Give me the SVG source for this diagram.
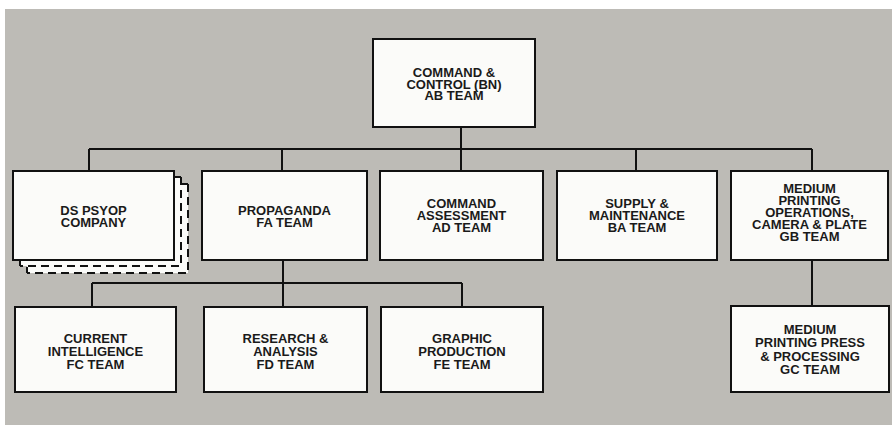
<svg xmlns="http://www.w3.org/2000/svg" width="892" height="428" viewBox="0 0 892 428">
<style>
.bg{fill:#bdbbb6}
.box{fill:#fbfbf9;stroke:#111;stroke-width:2}
.ln{fill:none;stroke:#111;stroke-width:2}
.dash{fill:none;stroke:#111;stroke-width:2;stroke-dasharray:8 5}
text{font-family:"Liberation Sans",Arial,Helvetica,sans-serif;font-weight:bold;font-size:13px;fill:#1a1a1a;text-anchor:middle}
</style>
<rect x="0" y="0" width="892" height="428" fill="#ffffff"/>
<rect class="bg" x="5" y="9" width="887" height="416"/>
<g id="connectors">
<path class="ln" d="M461 127V149M89 149H812M89 149V171M282 149V171M461 149V171M636 149V171M812 149V171"/>
<path class="ln" d="M283 260V307M92 283H462M92 283V307M462 283V307"/>
<path class="ln" d="M812 260V306"/>
</g>
<g id="AB">
<rect class="box" x="373" y="39" width="162" height="88"/>
<text x="454" y="77">COMMAND &amp;<tspan x="454" dy="11.7">CONTROL (BN)</tspan><tspan x="454" dy="11.7">AB TEAM</tspan></text>
</g>
<g id="DS">
<rect x="27" y="184" width="161" height="89" fill="#fbfbf9"/>
<path class="ln" d="M181 184H188M27 273V267"/>
<path class="dash" d="M188 184V273H27"/>
<rect x="20" y="177" width="161" height="89" fill="#fbfbf9"/>
<path class="ln" d="M174 177H181M20 266V260"/>
<path class="dash" d="M181 177V266H20"/>
<rect class="box" x="13" y="171" width="161" height="89"/>
<text x="93.5" y="214.7">DS PSYOP<tspan x="93.5" dy="12">COMPANY</tspan></text>
</g>
<g id="FA">
<rect class="box" x="202" y="171" width="165" height="89"/>
<text x="284.5" y="214.7">PROPAGANDA<tspan x="284.5" dy="12">FA TEAM</tspan></text>
</g>
<g id="AD">
<rect class="box" x="380" y="171" width="163" height="89"/>
<text x="461.5" y="208.2">COMMAND<tspan x="461.5" dy="12">ASSESSMENT</tspan><tspan x="461.5" dy="12">AD TEAM</tspan></text>
</g>
<g id="BA">
<rect class="box" x="557" y="171" width="160" height="89"/>
<text x="637" y="208.2">SUPPLY &amp;<tspan x="637" dy="12">MAINTENANCE</tspan><tspan x="637" dy="12">BA TEAM</tspan></text>
</g>
<g id="GB">
<rect class="box" x="731" y="171" width="157" height="89"/>
<text x="809.5" y="193">MEDIUM<tspan x="809.5" dy="11.9">PRINTING</tspan><tspan x="809.5" dy="11.9">OPERATIONS,</tspan><tspan x="809.5" dy="11.9">CAMERA &amp; PLATE</tspan><tspan x="809.5" dy="11.9">GB TEAM</tspan></text>
</g>
<g id="FC">
<rect class="box" x="15" y="307" width="161" height="85"/>
<text x="95.5" y="342.5">CURRENT<tspan x="95.5" dy="13">INTELLIGENCE</tspan><tspan x="95.5" dy="13">FC TEAM</tspan></text>
</g>
<g id="FD">
<rect class="box" x="204" y="307" width="163" height="85"/>
<text x="285.5" y="342.5">RESEARCH &amp;<tspan x="285.5" dy="13">ANALYSIS</tspan><tspan x="285.5" dy="13">FD TEAM</tspan></text>
</g>
<g id="FE">
<rect class="box" x="381" y="307" width="162" height="85"/>
<text x="462" y="342.5">GRAPHIC<tspan x="462" dy="13">PRODUCTION</tspan><tspan x="462" dy="13">FE TEAM</tspan></text>
</g>
<g id="GC">
<rect class="box" x="731" y="306" width="158" height="86"/>
<text x="810" y="333.5">MEDIUM<tspan x="810" dy="13.5">PRINTING PRESS</tspan><tspan x="810" dy="13.5">&amp; PROCESSING</tspan><tspan x="810" dy="13.5">GC TEAM</tspan></text>
</g>
</svg>
